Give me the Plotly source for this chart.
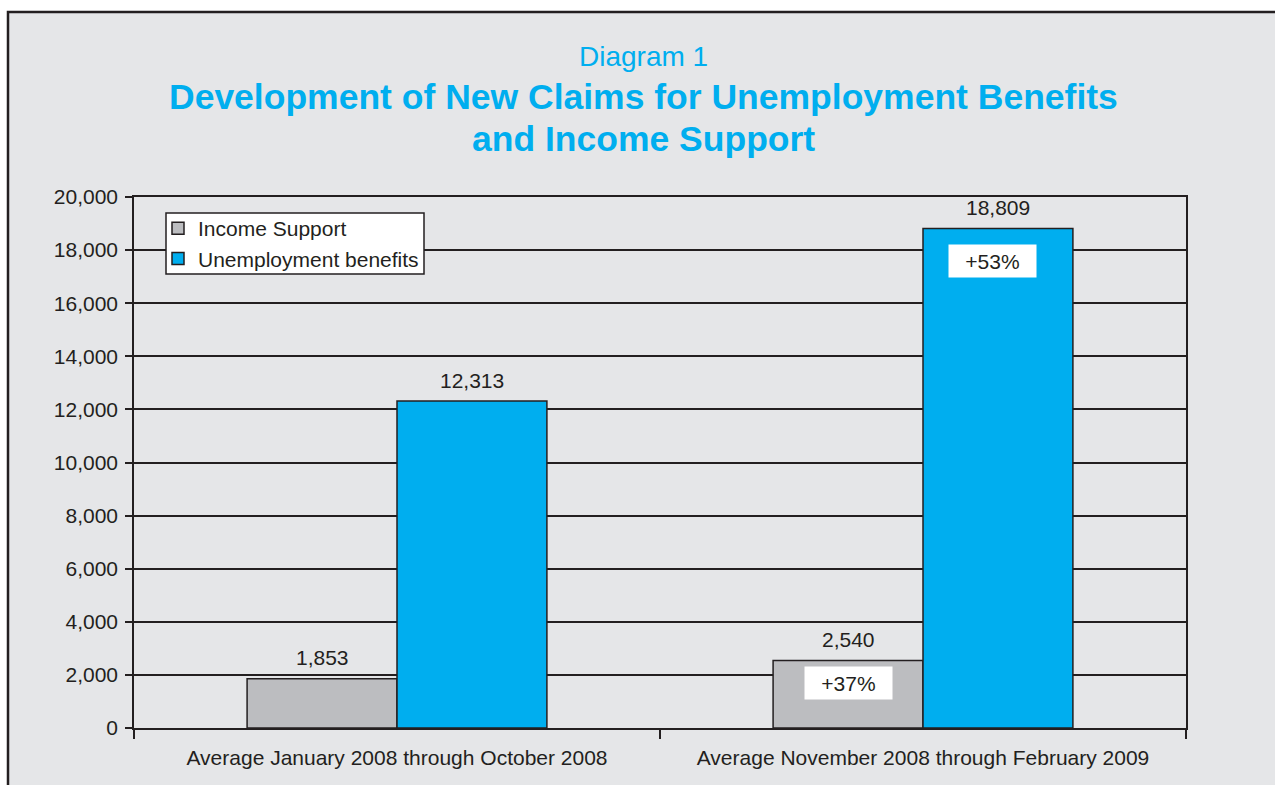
import plotly.graph_objects as go

categories = ["Average January 2008 through October 2008",
              "Average November 2008 through February 2009"]
income_support = [1853, 2540]
unemployment = [12313, 18809]
series_names = ["Income Support", "Unemployment benefits"]
pct_labels = ["+37%", "+53%"]          # change labels, second category
pct_label_y = [1695, 17590]            # label centre heights (data units)
y_ticks = list(range(0, 20001, 2000))

DARK = "#231F20"
GRAY = "#BCBDC0"
BLUE = "#00AEEF"
BG = "#E5E6E8"
FONT = "Arial, Liberation Sans, sans-serif"
FS = 21

# plot-area geometry in px
L, R, T, B = 134, 1186, 197, 728
W, H = 1275, 785
pw, ph = R - L, B - T
def px_x(p):
    return (p - L) / pw
def px_y(p):
    return (B - p) / ph

bargap = 0.43
half = (1 - bargap) / 4

fig = go.Figure()
fig.add_trace(go.Bar(x=categories, y=income_support, name=series_names[0],
                     marker=dict(color=GRAY, line=dict(color=DARK, width=1.5))))
fig.add_trace(go.Bar(x=categories, y=unemployment, name=series_names[1],
                     marker=dict(color=BLUE, line=dict(color=DARK, width=1.5))))

ann = []
for i in range(len(categories)):
    for off, vals in ((-half, income_support), (half, unemployment)):
        ann.append(dict(x=i + off, y=vals[i], xref="x", yref="y",
                        text=f"{vals[i]:,}", showarrow=False, yshift=21,
                        font=dict(size=FS, color=DARK, family=FONT)))
# percent change boxes on the second category
for off, lab, yy, xs in ((-half, pct_labels[0], pct_label_y[0], 0),
                         (half, pct_labels[1], pct_label_y[1], -5)):
    ann.append(dict(x=1 + off, y=yy, xref="x", yref="y", text=lab, xshift=xs,
                    showarrow=False, bgcolor="white", width=81, height=26,
                    borderpad=3, font=dict(size=FS, color=DARK, family=FONT)))

# titles
ann.append(dict(x=px_x(643), y=px_y(57), xref="paper", yref="paper",
                text="Diagram 1", showarrow=False, xanchor="center", yanchor="middle",
                font=dict(size=28, color=BLUE, family=FONT)))
ann.append(dict(x=px_x(643), y=px_y(97), xref="paper", yref="paper",
                text="<b>Development of New Claims for Unemployment Benefits</b>",
                showarrow=False, xanchor="center", yanchor="middle",
                font=dict(size=35.5, color=BLUE, family=FONT)))
ann.append(dict(x=px_x(643), y=px_y(139), xref="paper", yref="paper",
                text="<b>and Income Support</b>",
                showarrow=False, xanchor="center", yanchor="middle",
                font=dict(size=35.5, color=BLUE, family=FONT)))

fig.update_layout(
    width=W, height=H,
    margin=dict(l=L, r=W - R, t=T, b=H - B),
    paper_bgcolor="white", plot_bgcolor="white",
    barmode="group", bargap=bargap, bargroupgap=0,
    font=dict(family=FONT, size=FS, color=DARK),
    showlegend=True,
    legend=dict(x=px_x(158), y=px_y(208), xanchor="left", yanchor="top",
                bgcolor="rgba(0,0,0,0)", borderwidth=0,
                font=dict(size=FS, color=DARK, family=FONT),
                itemwidth=30, tracegroupgap=0),
    annotations=ann,
    shapes=[dict(type="rect", xref="paper", yref="paper",
                 x0=px_x(8), x1=px_x(1290), y0=px_y(800), y1=px_y(12),
                 fillcolor=BG, line=dict(color=DARK, width=2.5), layer="below"),
            # legend box
            dict(type="rect", xref="paper", yref="paper",
                 x0=px_x(166), x1=px_x(424), y0=px_y(274), y1=px_y(213),
                 fillcolor="white", line=dict(color=DARK, width=1.5), layer="above")],
)
fig.update_xaxes(showline=True, linecolor=DARK, linewidth=1.5, mirror=True,
                 ticks="outside", tickson="boundaries", ticklen=9, tickcolor=DARK,
                 tickwidth=1.5, showgrid=False, ticklabelstandoff=10,
                 tickfont=dict(size=FS, color=DARK, family=FONT))
fig.update_yaxes(range=[0, 20000], tickvals=y_ticks,
                 ticktext=[f"{v:,}" for v in y_ticks],
                 showline=True, linecolor=DARK, linewidth=1.5, mirror=True,
                 ticks="outside", ticklen=7, tickcolor=DARK, tickwidth=1.5,
                 ticklabelstandoff=3,
                 showgrid=True, gridcolor=DARK, gridwidth=1.5, zeroline=False,
                 tickfont=dict(size=FS, color=DARK, family=FONT))

fig.write_html("out.html")
